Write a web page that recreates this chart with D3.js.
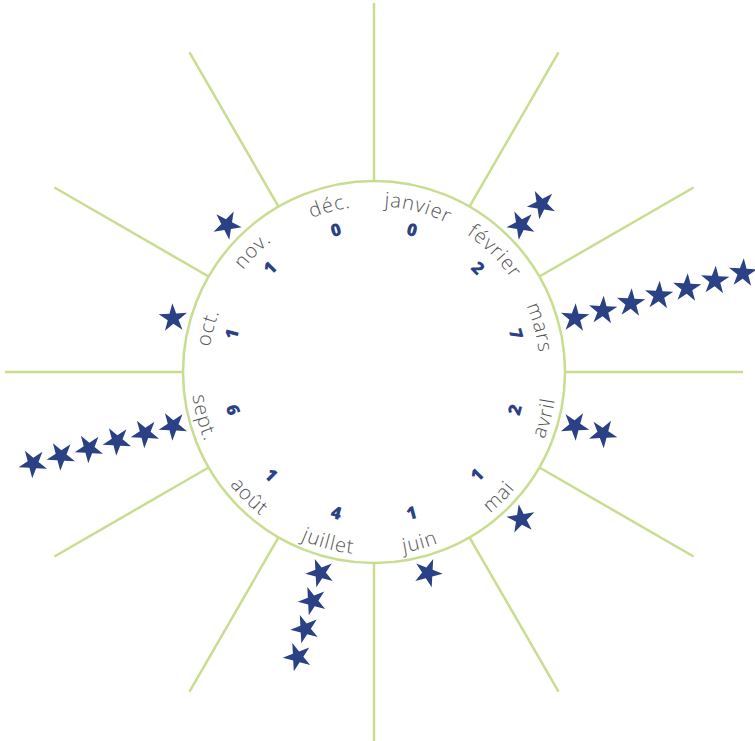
<!DOCTYPE html>
<html>
<head>
<meta charset="utf-8">
<script src="https://cdn.jsdelivr.net/npm/d3@7"></script>
<style>
  html, body { margin: 0; padding: 0; background: #fff; }
  svg { display: block; }
</style>
</head>
<body>
<svg id="chart" width="755" height="741"></svg>
<script>
const months = ["janvier", "février", "mars", "avril", "mai", "juin", "juillet", "août", "sept.", "oct.", "nov.", "déc."];
const counts = [0, 2, 7, 2, 1, 1, 4, 1, 6, 1, 1, 0];
// stars actually drawn on each ray (the reference shows none for août)
const starCounts = [0, 2, 7, 2, 1, 1, 4, 0, 6, 1, 1, 0];

const W = 755, H = 741, cx = 374, cy = 372;
const rCircle = 191, rOuter = 369;
const green = "#c8dd8f", navy = "#2a4185", gray = "#555555";

const svg = d3.select("#chart");
const g = svg.append("g").attr("transform", `translate(${cx},${cy})`);

// angle scale: compass degrees, clockwise from top
const angle = d3.scaleLinear().domain([0, months.length]).range([0, 360]);
// star position along the ray
const starR = d3.scaleLinear().domain([0, 1]).range([208, 237]);

const rad = d => d * Math.PI / 180;
const pt = (deg, r) => [r * Math.sin(rad(deg)), -r * Math.cos(rad(deg))];

// divider rays
const rays = d3.range(months.length).map(i => angle(i));
g.selectAll("line.ray").data(rays).join("line")
  .attr("class", "ray")
  .attr("x1", d => pt(d, rCircle)[0]).attr("y1", d => pt(d, rCircle)[1])
  .attr("x2", d => pt(d, rOuter)[0]).attr("y2", d => pt(d, rOuter)[1])
  .attr("stroke", green).attr("stroke-width", 2.5);

g.append("circle").attr("r", rCircle).attr("fill", "none")
  .attr("stroke", green).attr("stroke-width", 2.5);

const data = months.map((m, i) => ({ m, i, c: counts[i], s: starCounts[i], a: angle(i + 0.5) }));
const isTop = a => (a < 90 || a > 270);

function arcPath(a, r, top) {
  const p = d3.path();
  if (top) p.arc(0, 0, r, rad(a - 60 - 90), rad(a + 60 - 90), false);
  else p.arc(0, 0, r, rad(a + 60 - 90), rad(a - 60 - 90), true);
  return p.toString();
}

const defs = svg.append("defs");
data.forEach(d => {
  const top = isTop(d.a);
  defs.append("path").attr("id", "lbl" + d.i).attr("d", arcPath(d.a, top ? 166 : 183, top));
  defs.append("path").attr("id", "num" + d.i).attr("d", arcPath(d.a, top ? 141 : 152, top));
});

g.selectAll("text.month").data(data).join("text")
  .attr("class", "month")
  .attr("font-family", "'Open Sans', sans-serif")
  .attr("font-weight", 300)
  .attr("font-size", 20)
  .attr("letter-spacing", 1)
  .attr("fill", gray)
  .append("textPath")
  .attr("href", d => "#lbl" + d.i)
  .attr("startOffset", "50%")
  .attr("text-anchor", "middle")
  .text(d => d.m);

g.selectAll("text.num").data(data).join("text")
  .attr("class", "num")
  .attr("font-family", "'Open Sans', sans-serif")
  .attr("font-weight", 800)
  .attr("font-size", 17.5)
  .attr("fill", navy)
  .append("textPath")
  .attr("href", d => "#num" + d.i)
  .attr("startOffset", "50%")
  .attr("text-anchor", "middle")
  .text(d => d.c);

// stars
const stars = data.flatMap(d => d3.range(d.s).map(k => ({ a: d.a, k })));
const starSym = d3.symbol().type(d3.symbolStar).size(250);
g.selectAll("path.star").data(stars).join("path")
  .attr("class", "star")
  .attr("d", starSym)
  .attr("fill", navy)
  .attr("transform", d => {
    const [x, y] = pt(d.a, starR(d.k));
    return `translate(${x},${y}) rotate(${d.a})`;
  });
</script>
</body>
</html>
